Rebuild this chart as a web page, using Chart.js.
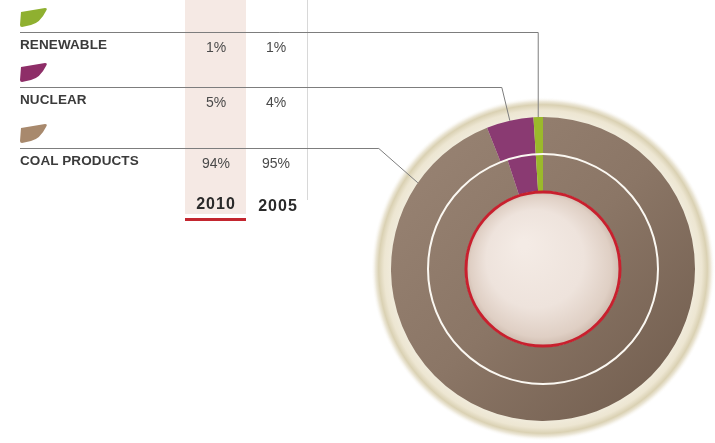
<!DOCTYPE html>
<html lang="en">
<head>
<meta charset="UTF-8">
<title>Fuel mix</title>
<script src="https://cdn.jsdelivr.net/npm/chart.js"></script>
<style>
    body { margin: 0; background: #fff; }
    #wrap { position: relative; width: 715px; height: 443px; overflow: hidden; font-family: "Liberation Sans", Arial, sans-serif; }
    #myChart { position: absolute; left: 0; top: 0; }
    .lbl { position: absolute; left: 20px; font-weight: bold; font-size: 13.5px; line-height: 14px; color: #3b3b3b; letter-spacing: 0.1px; }
    .val { position: absolute; width: 50px; text-align: center; font-size: 14px; line-height: 14px; color: #4a4a4a; }
    .yr { position: absolute; width: 60px; text-align: center; font-weight: bold; font-size: 16px; line-height: 16px; color: #2a2a2a; letter-spacing: 1px; }
</style>
</head>
<body>
<div id="wrap">
    <canvas id="myChart" width="715" height="443"></canvas>
</div>
<script>
    // values
    var categories = ['RENEWABLE', 'NUCLEAR', 'COAL PRODUCTS'];
    var years = ['2010', '2005'];
    var share2010 = [1, 5, 94];
    var share2005 = [1, 4, 95];
    var colors = ['#9bb92b', '#8a3a72', '#8f7867'];
    var iconColors = ['#8fb030', '#8e2e68', '#a8896d'];

    // layout of the table on the left
    var rowLine = [32, 87, 148];
    var colX = [216, 276];
    var anchorFrac = [0.5, 0.5, 0.9];
    var kinkDx = [0, 8, 39];

    var wrap = document.getElementById('wrap');
    function addText(cls, txt, left, top) {
        var d = document.createElement('div');
        d.className = cls;
        d.textContent = txt;
        d.style.left = left + 'px';
        d.style.top = top + 'px';
        wrap.appendChild(d);
    }
    for (var i = 0; i < categories.length; i++) {
        addText('lbl', categories[i], 20, rowLine[i] + 6);
        addText('val', share2010[i] + '%', colX[0] - 25, rowLine[i] + 8);
        addText('val', share2005[i] + '%', colX[1] - 25, rowLine[i] + 8);
    }
    addText('yr', years[0], colX[0] - 30, 196);
    addText('yr', years[1], colX[1] - 28, 198);

    // chart draws clockwise from the top, so reverse the order
    var chartLabels = categories.slice().reverse();
    function ringColor(k) {
        return function (c) {
            var idx = c.dataIndex;
            var col = colors[categories.length - 1 - idx];
            if (idx !== 0 || !c.chart.chartArea) return col;
            var a = c.chart.chartArea;
            var g = c.chart.ctx.createLinearGradient(a.left, a.top, a.right, a.bottom);
            g.addColorStop(0, '#9a8575');
            g.addColorStop(0.5, '#8b7666');
            g.addColorStop(1, '#6f5b4c');
            return g;
        };
    }

    var decor = {
        id: 'decor',
        beforeDatasetsDraw: function (chart) {
            var ctx = chart.ctx;
            var arc = chart.getDatasetMeta(0).data[0];
            var cx = arc.x, cy = arc.y, R = arc.outerRadius;
            ctx.save();
            // 2010 column band
            ctx.fillStyle = '#f5e9e4';
            ctx.fillRect(185, 0, 61, 214);
            // divider
            ctx.strokeStyle = '#d8d8d8';
            ctx.lineWidth = 1;
            ctx.beginPath();
            ctx.moveTo(307.5, 0);
            ctx.lineTo(307.5, 200);
            ctx.stroke();
            // red underline
            ctx.fillStyle = '#c3262f';
            ctx.fillRect(185, 218, 61, 3);
            // leaf icons
            for (var i = 0; i < categories.length; i++) {
                var t = rowLine[i] - 25;
                ctx.fillStyle = iconColors[i];
                ctx.beginPath();
                ctx.moveTo(21, t + 5);
                ctx.lineTo(45, t + 1);
                ctx.quadraticCurveTo(48, t + 1, 46, t + 4);
                ctx.quadraticCurveTo(40, t + 16, 31, t + 18);
                ctx.lineTo(22, t + 20);
                ctx.quadraticCurveTo(20, t + 20, 20, t + 18);
                ctx.closePath();
                ctx.fill();
            }
            // beige halo
            var g = ctx.createRadialGradient(cx, cy, R - 2, cx, cy, R + 20);
            g.addColorStop(0, '#f1ecdd');
            g.addColorStop(0.4, '#ede6d2');
            g.addColorStop(0.65, '#dad1b3');
            g.addColorStop(0.8, '#ede8d9');
            g.addColorStop(1, 'rgba(255,255,255,0)');
            ctx.fillStyle = g;
            ctx.beginPath();
            ctx.arc(cx, cy, R + 20, 0, Math.PI * 2);
            ctx.fill();
            ctx.restore();
        },
        afterDatasetsDraw: function (chart) {
            var ctx = chart.ctx;
            var outer = chart.getDatasetMeta(0).data;
            var inner = chart.getDatasetMeta(1).data;
            var cx = outer[0].x, cy = outer[0].y;
            ctx.save();
            // white ring between the two years
            ctx.strokeStyle = '#fbf8f2';
            ctx.lineWidth = 2;
            ctx.beginPath();
            ctx.arc(cx, cy, outer[0].innerRadius, 0, Math.PI * 2);
            ctx.stroke();
            // centre disc
            var r = inner[0].innerRadius;
            var g = ctx.createRadialGradient(cx - 20, cy - 25, 5, cx, cy, r);
            g.addColorStop(0, '#f4ebe5');
            g.addColorStop(0.6, '#eee3dc');
            g.addColorStop(0.9, '#dfcfc4');
            g.addColorStop(1, '#cdb9ac');
            ctx.fillStyle = g;
            ctx.beginPath();
            ctx.arc(cx, cy, r, 0, Math.PI * 2);
            ctx.fill();
            ctx.strokeStyle = '#c8202e';
            ctx.lineWidth = 3;
            ctx.beginPath();
            ctx.arc(cx, cy, r - 1, 0, Math.PI * 2);
            ctx.stroke();
            // connectors from table rows to the outer ring
            ctx.strokeStyle = '#7d7d7d';
            ctx.lineWidth = 1;
            for (var i = 0; i < categories.length; i++) {
                var a = outer[categories.length - 1 - i];
                var ang = a.startAngle + (a.endAngle - a.startAngle) * anchorFrac[i];
                var ex = cx + a.outerRadius * Math.cos(ang);
                var ey = cy + a.outerRadius * Math.sin(ang);
                var y = rowLine[i] + 0.5;
                ctx.beginPath();
                ctx.moveTo(20, y);
                ctx.lineTo(ex - kinkDx[i], y);
                ctx.lineTo(ex, ey);
                ctx.stroke();
            }
            ctx.restore();
        }
    };

    var ctx = document.getElementById('myChart');
    new Chart(ctx, {
        type: 'doughnut',
        data: {
            labels: chartLabels,
            datasets: [{
                label: years[0],
                data: share2010.slice().reverse(),
                backgroundColor: ringColor(0),
                borderWidth: 0
            }, {
                label: years[1],
                data: share2005.slice().reverse(),
                backgroundColor: ringColor(1),
                borderWidth: 0
            }]
        },
        options: {
            responsive: false,
            animation: false,
            cutout: 78,
            layout: { padding: { left: 391, right: 20, top: 117, bottom: 22 } },
            plugins: {
                legend: { display: false },
                tooltip: { enabled: false }
            }
        },
        plugins: [decor]
    });
</script>
</body>
</html>
